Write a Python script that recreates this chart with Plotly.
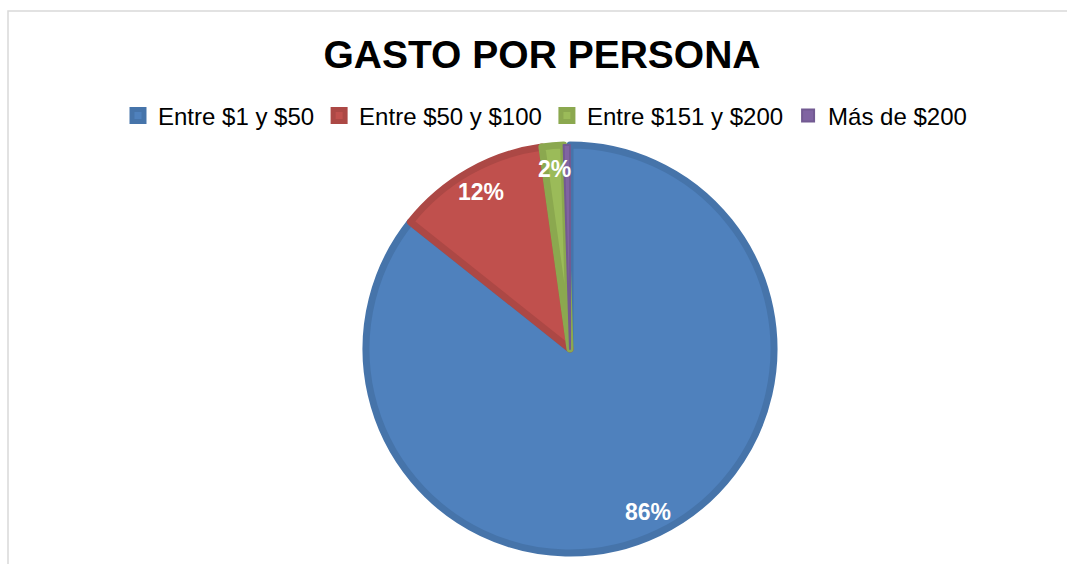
import math
import plotly.graph_objects as go

# ---- data ----
categories = ["Entre $1 y $50", "Entre $50 y $100", "Entre $151 y $200", "Más de $200"]
values = [85.7, 12.1, 1.7, 0.5]
title_text = "GASTO POR PERSONA"

# ---- style ----
fill_colors = ["#4F81BD", "#C0504D", "#9BBB59", "#8064A2"]
line_colors = ["#4674AA", "#AC4845", "#8BA84F", "#725A92"]
line_widths = [7, 7, 7, 2]
W, H = 1067, 564
cx_px, cy_px, R_px = 570, 349, 204
line_w = 7
font_family = "Liberation Sans, Arial, sans-serif"

dom_x = [(cx_px - R_px) / W, (cx_px + R_px) / W]
dom_y = [1 - (cy_px + R_px) / H, 1 - (cy_px - R_px) / H]

fig = go.Figure()
fig.add_trace(go.Pie(
    labels=categories,
    values=values,
    sort=False,
    direction="clockwise",
    rotation=0,
    marker=dict(colors=fill_colors, line=dict(color=line_colors, width=line_widths)),
    textinfo="none",
    domain=dict(x=dom_x, y=dom_y),
    hoverinfo="label+percent",
))

# data labels placed at mid-angle of each slice (clockwise from 12 o'clock)
total = sum(values)
cum = 0.0
annotations = []
label_r = 0.87 * (R_px + line_w / 2)
for v in values:
    mid = (cum + v / 2) / total * 2 * math.pi
    cum += v
    pct = round(v / total * 100)
    if pct < 1:
        continue
    x = (cx_px + label_r * math.sin(mid)) / W
    y = 1 - (cy_px - label_r * math.cos(mid)) / H
    annotations.append(dict(
        x=x, y=y, xref="paper", yref="paper", text=f"<b>{pct}%</b>",
        showarrow=False, font=dict(family=font_family, size=23, color="white"),
        xanchor="center", yanchor="middle",
    ))

fig.update_layout(
    width=W, height=H,
    margin=dict(l=0, r=0, t=0, b=0),
    paper_bgcolor="white",
    plot_bgcolor="white",
    title=dict(text=f"<b>{title_text}</b>", x=542 / W, xanchor="center",
               y=1 - 54 / H, yanchor="middle",
               font=dict(family=font_family, size=39, color="black")),
    showlegend=True,
    legend=dict(orientation="h", x=545 / W, xanchor="center",
                y=1 - 116 / H, yanchor="middle",
                font=dict(family=font_family, size=24, color="black"),
                bgcolor="rgba(0,0,0,0)"),
    annotations=annotations,
    shapes=[dict(type="rect", xref="paper", yref="paper",
                 x0=8 / W, x1=1.02, y0=-0.02, y1=1 - 11 / H,
                 line=dict(color="#D9D9D9", width=1.5), layer="below")],
)

fig.write_html("out.html", config={"displayModeBar": False},
               post_script="document.body.style.margin='0';")
